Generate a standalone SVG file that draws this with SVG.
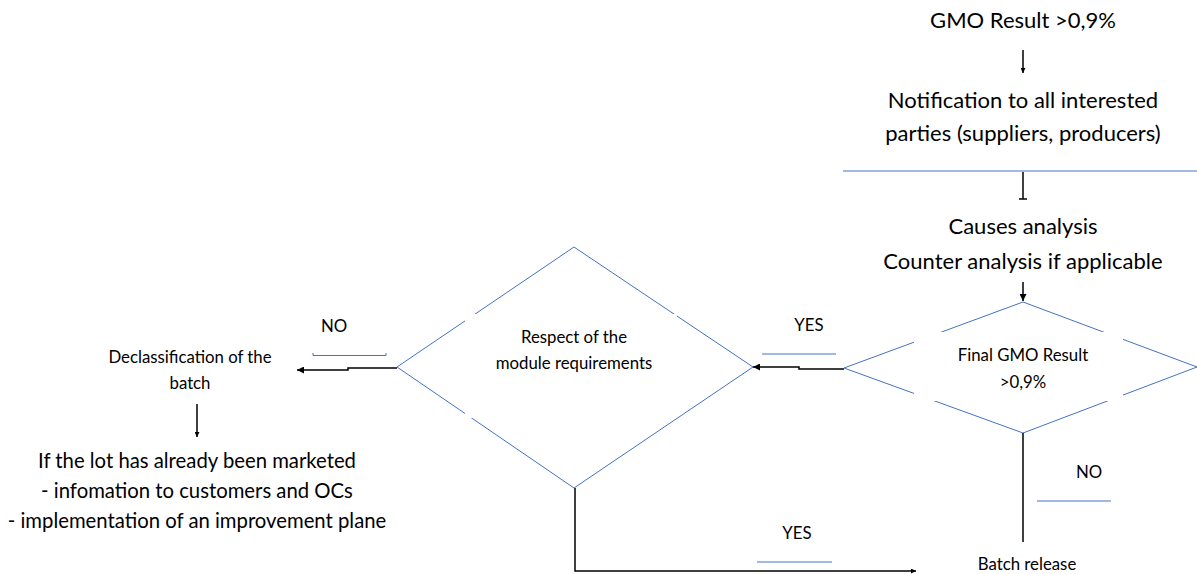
<svg xmlns="http://www.w3.org/2000/svg" width="1197" height="574" viewBox="0 0 1197 574">
<style>
.t{font-family:Lato,"Noto Sans","Liberation Sans",sans-serif;fill:#000;text-anchor:middle}
.big{font-size:22px}
.mid{font-size:20.3px}
.sm{font-size:16.8px}
.dia{fill:none;stroke:#4472C4;stroke-width:1}
.blue{fill:none;stroke:#4472C4;stroke-width:1}
.con{fill:none;stroke:#000;stroke-width:1.5}
.mask{fill:#fff;stroke:none}
</style>
<defs>
<marker id="ah" viewBox="0 0 10 10" refX="10" refY="5" markerWidth="7" markerHeight="7" markerUnits="userSpaceOnUse" orient="auto">
<path d="M0,0 L10,5 L0,10 z" fill="#000"/>
</marker>
<marker id="ahs" viewBox="0 0 10 10" refX="10" refY="5" markerWidth="5" markerHeight="5" markerUnits="userSpaceOnUse" orient="auto">
<path d="M0,0 L10,5 L0,10 z" fill="#000"/>
</marker>
</defs>
<rect width="1197" height="574" fill="#fff"/>

<g id="n-gmo-result">
<text class="t big" x="1023" y="28">GMO Result &gt;0,9%</text>
</g>

<g id="n-notification">
<text class="t big" x="1023" y="108">Notification to all interested</text>
<text class="t big" x="1023" y="141">parties (suppliers, producers)</text>
<line class="blue" x1="843" y1="171" x2="1197" y2="171"/>
</g>

<g id="n-causes">
<text class="t big" x="1023" y="234">Causes analysis</text>
<text class="t big" x="1023" y="269">Counter analysis if applicable</text>
</g>

<g id="n-final-gmo">
<polygon class="dia" points="1023,302 1197,367 1023,433 844,368"/>
<rect class="mask" x="914" y="332" width="209" height="69"/>
<text class="t sm" x="1023" y="361">Final GMO Result</text>
<text class="t sm" x="1023" y="388">&gt;0,9%</text>
</g>

<g id="n-respect">
<polygon class="dia" points="574,247 753,367 574,488 397,367"/>
<rect class="mask" x="465" y="314" width="212" height="104"/>
<text class="t sm" x="574" y="343">Respect of the</text>
<text class="t sm" x="574" y="369">module requirements</text>
</g>

<g id="n-declass">
<text class="t sm" x="190" y="363">Declassification of the</text>
<text class="t sm" x="190" y="389">batch</text>
</g>

<g id="n-marketed">
<text class="t mid" x="197" y="468">If the lot has already been marketed</text>
<text class="t mid" x="197" y="498">- infomation to customers and OCs</text>
<text class="t mid" x="197" y="528">- implementation of an improvement plane</text>
</g>

<g id="n-release">
<text class="t sm" x="1027" y="570">Batch release</text>
</g>

<g id="connectors">
<line class="con" x1="1023" y1="50" x2="1023" y2="73" marker-end="url(#ahs)"/>
<line class="con" x1="1023" y1="172" x2="1023" y2="199"/>
<line class="con" x1="1019" y1="199" x2="1027" y2="199" stroke-width="2"/>
<line class="con" x1="1023" y1="282" x2="1023" y2="301" marker-end="url(#ah)"/>

<polyline class="con" points="844,369 799,369 799,367 753,367" marker-end="url(#ah)"/>
<line class="blue" x1="762" y1="354" x2="836" y2="354"/>
<text class="t sm" x="809" y="331">YES</text>

<polyline class="con" points="397,368 348,368 348,370 297,370" marker-end="url(#ah)"/>
<polyline class="blue" points="313,353 313,355.5 386,355.5 386,353"/>
<text class="t sm" x="334" y="332">NO</text>

<line class="con" x1="197" y1="404" x2="197" y2="437" marker-end="url(#ahs)"/>

<polyline class="con" points="575,488 575,571 916,571" marker-end="url(#ahs)"/>
<line class="blue" x1="757" y1="562" x2="832" y2="562"/>
<text class="t sm" x="797" y="539">YES</text>

<line class="con" x1="1023" y1="433" x2="1023" y2="542"/>
<line class="blue" x1="1037" y1="501" x2="1111" y2="501" stroke="#8EA9DB"/>
<text class="t sm" x="1089" y="478">NO</text>
</g>
</svg>
